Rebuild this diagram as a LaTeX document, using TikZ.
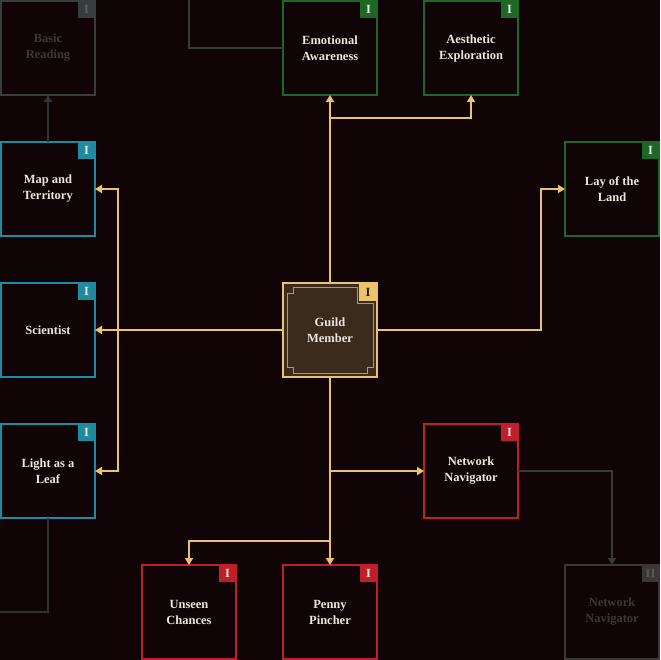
\documentclass[tikz,border=0pt]{standalone}
\usepackage{fontspec}
\setmainfont{Liberation Serif}
\usetikzlibrary{arrows.meta}
\definecolor{bg}{RGB}{16,4,6}
\definecolor{txt}{RGB}{238,230,222}
\definecolor{goldl}{RGB}{235,196,106}
\definecolor{goldd}{RGB}{190,150,80}
\definecolor{gmfill}{RGB}{58,43,29}
\definecolor{bluec}{RGB}{30,139,160}
\definecolor{greenc}{RGB}{28,104,36}
\definecolor{redc}{RGB}{192,30,40}
\definecolor{slate}{RGB}{55,61,63}
\definecolor{slatetxt}{RGB}{90,98,100}
\definecolor{fadebr}{RGB}{60,54,55}
\definecolor{fadetxt}{RGB}{62,53,53}
\definecolor{fadebadgetxt}{RGB}{94,86,86}
\definecolor{conngrey}{RGB}{58,56,56}
\definecolor{connslate}{RGB}{46,50,52}
\tikzset{
  skill/.style={draw, line width=2pt, minimum size=94pt, inner sep=0pt, outer sep=0pt,
    fill=bg, text=txt, font=\bfseries\fontsize{12.5}{16}\selectfont, align=center},
  badge/.style={minimum size=17pt, inner sep=0pt, outer sep=0pt, anchor=north east,
    text=txt, font=\bfseries\fontsize{12.5}{13}\selectfont},
  goldln/.style={draw=goldl, line width=2pt, -{Triangle[width=8pt,length=7pt]}},
  goldplain/.style={draw=goldl, line width=2pt},
  greyln/.style={draw=conngrey, line width=2pt, -{Triangle[width=8pt,length=7pt]}},
}
\begin{document}
\begin{tikzpicture}[x=1pt,y=-1pt]
\fill[bg] (0,0) rectangle (660,660);
\useasboundingbox (0,0) rectangle (660,660);
\clip (0,0) rectangle (660,660);

% nodes
\node[skill, draw=slate, text=fadetxt] (basic) at (48,48) {Basic\\Reading};
\node[badge, fill=slate, text=slatetxt] (basicB) at (basic.north east) {I};

\node[skill, draw=greenc] (emo) at (330,48) {Emotional\\Awareness};
\node[badge, fill=greenc] (emoB) at (emo.north east) {I};
\node[skill, draw=greenc] (aes) at (471,48) {Aesthetic\\Exploration};
\node[badge, fill=greenc] (aesB) at (aes.north east) {I};

\node[skill, draw=bluec] (map) at (48,189) {Map and\\Territory};
\node[badge, fill=bluec] (mapB) at (map.north east) {I};
\node[skill, draw=greenc] (land) at (612,189) {Lay of the\\Land};
\node[badge, fill=greenc] (landB) at (land.north east) {I};

\node[skill, draw=bluec] (sci) at (48,330) {Scientist};
\node[badge, fill=bluec] (sciB) at (sci.north east) {I};

\node[skill, draw=bluec] (leaf) at (48,471) {Light as a\\Leaf};
\node[badge, fill=bluec] (leafB) at (leaf.north east) {I};
\node[skill, draw=redc] (net) at (471,471) {Network\\Navigator};
\node[badge, fill=redc] (netB) at (net.north east) {I};

\node[skill, draw=redc] (unseen) at (189,612) {Unseen\\Chances};
\node[badge, fill=redc] (unseenB) at (unseen.north east) {I};
\node[skill, draw=redc] (penny) at (330,612) {Penny\\Pincher};
\node[badge, fill=redc] (pennyB) at (penny.north east) {I};
\node[skill, draw=fadebr, text=fadetxt] (net2) at (612,612) {Network\\Navigator};
\node[badge, fill=fadebr, text=fadebadgetxt] (net2B) at (net2.north east) {II};

% guild member
\node[skill, draw=goldl, fill=gmfill] (gm) at (330,330) {Guild\\Member};
\begin{scope}[shift={(gm.center)}]
  \draw[goldd, line width=1pt] (-43,-37) -- (-37,-37) -- (-37,-43) -- (27,-43) -- (27,-27)
    -- (43,-27) -- (43,37) -- (37,37) -- (37,43) -- (-37,43) -- (-37,37) -- (-43,37) -- cycle;
\end{scope}
\node[badge, minimum size=18pt, fill=goldl, text=gmfill!60!black] (gmB) at (gm.north east) {I};

% junctions
\coordinate (jt) at (330,118);
\coordinate (jl) at (118,330);
\coordinate (jr) at (541,330);
\coordinate (jb1) at (330,471);
\coordinate (jb2) at (330,541);
\coordinate (offL) at (0,612);
\coordinate (offT) at (189,0);

% grey connectors
\draw[greyln, draw=connslate] (map.north) -- (basic.south);
\draw[draw=connslate, line width=2pt] (leaf.south) |- (offL);
\draw[draw=conngrey, line width=2pt] (emo.west) -| (offT);
\draw[greyln] (net.east) -| (net2.north);

% gold connectors
\draw[goldln] (gm.north) -- (emo.south);
\draw[goldln] (jt) -| (aes.south);
\draw[goldln] (gm.west) -- (sci.east);
\draw[goldplain] (jl |- map.east) -- (jl |- leaf.east);
\draw[goldln] (jl) |- (map.east);
\draw[goldln] (jl) |- (leaf.east);
\draw[goldln] (gm.east) -- (jr) |- (land.west);
\draw[goldln] (gm.south) -- (penny.north);
\draw[goldln] (jb1) -- (net.west);
\draw[goldln] (jb2) -| (unseen.north);
\end{tikzpicture}
\end{document}
